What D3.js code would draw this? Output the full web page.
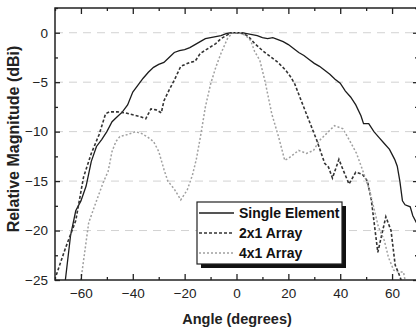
<!DOCTYPE html>
<html>
<head>
<meta charset="utf-8">
<script src="https://cdn.jsdelivr.net/npm/d3@7"></script>
<style>
  body { margin: 0; background: #fff; }
  svg { display: block; font-family: "Liberation Sans", Arial, sans-serif; }
</style>
</head>
<body>
<div id="chart"></div>
<script>
// angle (deg), relative magnitude (dBi)
const singleElement = [
  [-66, -25], [-64, -20.5], [-62, -18], [-60, -17], [-58, -15.5], [-56, -13], [-54, -11.5],
  [-52, -10.8], [-50, -10], [-48, -9], [-46, -8.5], [-44, -8], [-42, -7.3], [-40, -6],
  [-38, -5.3], [-36, -4.6], [-34, -4], [-32, -3.5], [-30, -3.2], [-28, -3], [-26, -2.5],
  [-24, -2], [-22, -1.8], [-20, -1.7], [-18, -1.5], [-16, -1.2], [-14, -0.9], [-12, -0.6],
  [-10, -0.5], [-8, -0.4], [-6, -0.3], [-4, -0.1], [-2, 0], [0, 0], [2, 0], [4, -0.1],
  [6, -0.2], [8, -0.3], [10, -0.5], [12, -0.6], [14, -0.5], [16, -0.7], [18, -0.9],
  [20, -1.2], [22, -1.6], [24, -2], [26, -2.3], [28, -2.7], [30, -3.1], [32, -3.4],
  [34, -3.8], [36, -4.2], [38, -4.7], [40, -5.1], [42, -5.9], [44, -6.5], [46, -7.3],
  [48, -8.4], [49, -9.2], [51, -9.2], [53, -10], [55, -10.6], [57, -11.2], [59, -11.8],
  [61, -12.8], [62, -13.5], [63, -15], [64, -17], [65, -17.4], [67, -17.6], [68, -18.5],
  [70, -19.5]
];

const array2x1 = [
  [-69.5, -24.5], [-66, -21.8], [-62, -19], [-59, -14.6], [-56, -12.2], [-53, -10.3],
  [-50.5, -8.2], [-49, -8], [-46, -8], [-43, -8.1], [-40, -8.3], [-37, -8.5], [-35, -8.7],
  [-33, -7.7], [-31, -7.8], [-29, -8.1], [-28, -6.9], [-26, -5.8], [-24, -4.8],
  [-21.5, -3.4], [-18, -3], [-16, -2.9], [-14, -2.1], [-11, -1.6], [-8, -1.1], [-6, -0.6],
  [-4, -0.3], [-2, 0], [0, 0], [3, -0.1], [5, -0.5], [7, -1.1], [10, -1.8], [13, -2.4],
  [16, -3], [19, -3.8], [21, -4.5], [22.5, -5.2], [25, -6.9], [28, -8.9], [31, -10.9],
  [34, -13.2], [35.5, -13.6], [37, -14.7], [39.5, -12.8], [41, -13.8], [43.4, -15.3],
  [46, -14.1], [48.5, -14.3], [50.5, -15], [52, -16.9], [54.5, -22.2], [57.6, -18.6],
  [59.6, -20], [61.2, -23.5], [62.5, -24.3], [63.5, -25]
];

const array4x1 = [
  [-60, -25], [-57, -19.2], [-54, -17], [-51.5, -15.2], [-49.5, -14], [-48, -12],
  [-46.5, -11], [-45, -10.5], [-42, -10.3], [-39, -10], [-36.5, -10.2], [-34, -10.6],
  [-32, -11], [-30, -12], [-28, -13.8], [-26.5, -15], [-24, -15.8], [-21.5, -16.9],
  [-19, -15.9], [-17, -14.4], [-15.5, -12.8], [-13.7, -10.2], [-12, -7.5], [-10, -5.2],
  [-8, -3.5], [-6, -2.1], [-3.5, -0.6], [-1.5, 0], [1.7, 0], [4, -0.4], [5.5, -0.8],
  [7, -1.9], [9, -2.8], [11, -4.9], [13.6, -8.2], [16.3, -10.6], [18.6, -12.9],
  [20.5, -12.6], [22, -12.3], [24, -11.9], [27, -12.2], [29.7, -11.9], [32, -10.9],
  [34.7, -10.2], [37.8, -9.4], [41, -9.7], [43.6, -10.9], [46.3, -12.2], [48.5, -13.8],
  [51.3, -15.9], [54.7, -19.6], [57, -21], [58.6, -22.7], [60.6, -24], [62.4, -24.2],
  [64.4, -24.2], [65, -25]
];

const xMajor = [-60, -40, -20, 0, 20, 40, 60];
const xMinor = [-70, -50, -30, -10, 10, 30, 50, 70];
const yMajor = [0, -5, -10, -15, -20, -25];
const yMinor = [2.5, -2.5, -7.5, -12.5, -17.5, -22.5];
const gridValues = [0, -5, -10, -15, -20];
const seriesNames = ["Single Element", "2x1 Array", "4x1 Array"];

const width = 416, height = 330;
const plotLeft = 55, plotRight = 418, plotTop = 8, plotBottom = 280;

const svg = d3.select("#chart").append("svg")
  .attr("width", width)
  .attr("height", height);

const x = d3.scaleLinear().domain([-70, 70]).range([plotLeft, plotRight]);
const y = d3.scaleLinear().domain([-25, 2.5]).range([plotBottom, plotTop]);

svg.append("defs").append("clipPath").attr("id", "plot")
  .append("rect")
  .attr("x", plotLeft).attr("y", plotTop)
  .attr("width", plotRight - plotLeft).attr("height", plotBottom - plotTop);

// dashed horizontal grid
svg.append("g").selectAll("line")
  .data(gridValues)
  .join("line")
  .attr("x1", plotLeft).attr("x2", plotRight)
  .attr("y1", d => y(d)).attr("y2", d => y(d))
  .attr("stroke", "#d2d2d2")
  .attr("stroke-width", 1)
  .attr("stroke-dasharray", "8,6");

// curves
const line = d3.line()
  .x(d => x(d[0]))
  .y(d => y(d[1]))
  .curve(d3.curveLinear);

const curves = svg.append("g").attr("clip-path", "url(#plot)");
const styles = [
  { data: singleElement, stroke: "#1c1c1c", width: 1.3, dash: null },
  { data: array2x1, stroke: "#333", width: 1.6, dash: "3,2" },
  { data: array4x1, stroke: "#a0a0a0", width: 1.5, dash: "2,2" }
];
styles.forEach(s => {
  curves.append("path")
    .datum(s.data)
    .attr("fill", "none")
    .attr("stroke", s.stroke)
    .attr("stroke-width", s.width)
    .attr("stroke-dasharray", s.dash)
    .attr("d", line);
});

// axes (ticks point inward)
function styleAxis(g) {
  g.select(".domain").remove();
  g.selectAll(".tick line").attr("stroke", "#222").attr("stroke-width", 1.3);
  g.selectAll("text")
    .attr("fill", "#222")
    .style("font-size", "13.5px")
    .style("font-family", "\"Liberation Sans\", Arial, sans-serif");
}

svg.append("g")
  .attr("transform", `translate(0,${plotBottom})`)
  .call(d3.axisBottom(x).tickValues(xMajor).tickSize(-6).tickPadding(8).tickFormat(d3.format("d")))
  .call(styleAxis);
svg.append("g")
  .attr("transform", `translate(0,${plotBottom})`)
  .call(d3.axisBottom(x).tickValues(xMinor).tickSize(-3).tickFormat(""))
  .call(styleAxis);
svg.append("g")
  .attr("transform", `translate(0,${plotTop})`)
  .call(d3.axisTop(x).tickValues(xMajor).tickSize(-6).tickFormat(""))
  .call(styleAxis);
svg.append("g")
  .attr("transform", `translate(0,${plotTop})`)
  .call(d3.axisTop(x).tickValues(xMinor).tickSize(-3).tickFormat(""))
  .call(styleAxis);

svg.append("g")
  .attr("transform", `translate(${plotLeft},0)`)
  .call(d3.axisLeft(y).tickValues(yMajor).tickSize(-5).tickPadding(7).tickFormat(d3.format("d")))
  .call(styleAxis);
svg.append("g")
  .attr("transform", `translate(${plotLeft},0)`)
  .call(d3.axisLeft(y).tickValues(yMinor).tickSize(-3).tickFormat(""))
  .call(styleAxis);
svg.append("g")
  .attr("transform", `translate(${plotRight},0)`)
  .call(d3.axisRight(y).tickValues(yMajor).tickSize(-5).tickFormat(""))
  .call(styleAxis);
svg.append("g")
  .attr("transform", `translate(${plotRight},0)`)
  .call(d3.axisRight(y).tickValues(yMinor).tickSize(-3).tickFormat(""))
  .call(styleAxis);

// frame
svg.append("rect")
  .attr("x", plotLeft).attr("y", plotTop)
  .attr("width", plotRight - plotLeft).attr("height", plotBottom - plotTop)
  .attr("fill", "none")
  .attr("stroke", "#222")
  .attr("stroke-width", 1.5);

// axis titles
svg.append("text")
  .attr("x", 237).attr("y", 324)
  .attr("text-anchor", "middle")
  .style("font-size", "14.5px")
  .style("font-weight", "bold")
  .attr("fill", "#222")
  .text("Angle (degrees)");

svg.append("text")
  .attr("transform", "translate(19,139) rotate(-90)")
  .attr("text-anchor", "middle")
  .style("font-size", "16px")
  .style("font-weight", "bold")
  .attr("fill", "#222")
  .text("Relative Magnitude (dBi)");

// legend
const lg = svg.append("g").attr("transform", "translate(197,202)");
const lgW = 145, lgH = 62;
lg.append("rect")
  .attr("x", 4).attr("y", 4)
  .attr("width", lgW).attr("height", lgH)
  .attr("fill", "#111");
lg.append("rect")
  .attr("width", lgW).attr("height", lgH)
  .attr("fill", "#fff")
  .attr("stroke", "#222")
  .attr("stroke-width", 1.2);

const rows = lg.selectAll("g.legendEntry")
  .data(styles)
  .join("g")
  .attr("class", "legendEntry")
  .attr("transform", (d, i) => `translate(0,${11 + i * 20})`);
rows.append("line")
  .attr("x1", 2).attr("x2", 37)
  .attr("stroke", d => d.stroke)
  .attr("stroke-width", d => d.width)
  .attr("stroke-dasharray", d => d.dash);
rows.append("text")
  .attr("x", 42).attr("dy", "0.36em")
  .style("font-size", "14px")
  .style("font-weight", "bold")
  .attr("fill", "#111")
  .text((d, i) => seriesNames[i]);
</script>
</body>
</html>
